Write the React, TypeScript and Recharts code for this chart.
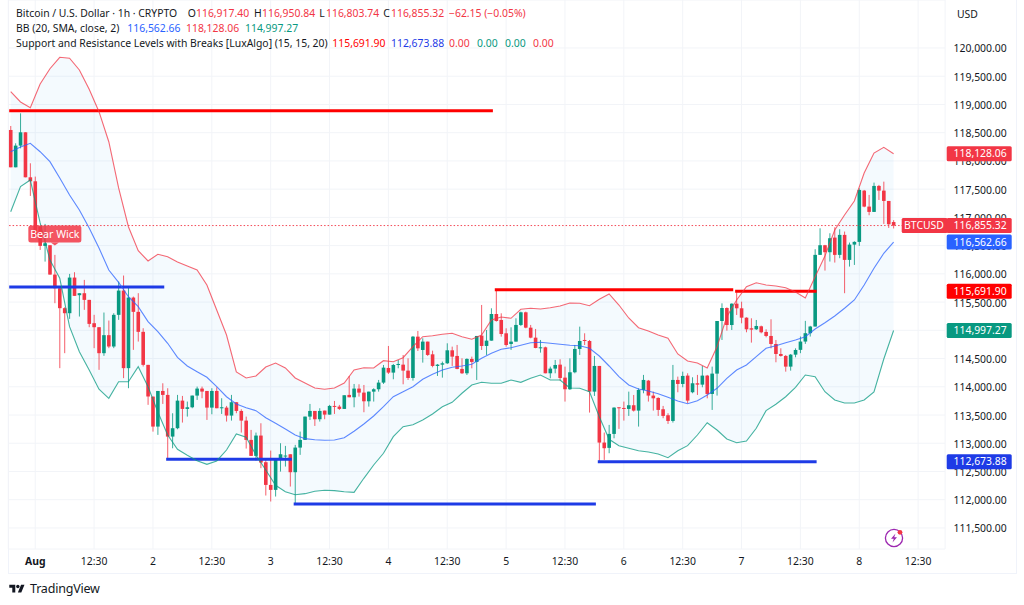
import React from "react";
import {
  ComposedChart, Bar, Line, Area, XAxis, YAxis, CartesianGrid, ReferenceLine, ReferenceDot,
} from "recharts";

const FONT = "'Noto Sans', sans-serif";
const RED = "#F23645";
const GREEN = "#089981";
const BLUE = "#2962FF";
const LEVEL_RED = "#FF0000";
const LEVEL_BLUE = "#1E3BE6";
const INK = "#131722";

// [open, high, low, close], one row per hourly candle
const ohlc: number[][] = [
  [118548,118619,117887,117887],[117887,118312,117887,118271],[118271,118843,118223,118507],[118507,118507,117710,117710],
  [117710,117958,117380,117639],[117639,117722,116660,116660],[116840,116840,116424,116495],[116495,116884,116217,116542],
  [116507,116507,115987,115987],[115987,116336,115480,115745],[115745,115775,114330,115392],[115392,115409,114595,115303],
  [115303,115999,115203,115934],[115934,116029,115610,115610],[115622,115657,115244,115657],[115657,115893,115362,115539],
  [115539,115539,115055,115114],[115126,115274,114684,115055],[115055,115055,114300,114595],[114595,115315,114548,114914],
  [114914,115173,114684,114713],[114713,115303,114684,115274],[115274,115863,115185,115704],[115704,115970,114153,114330],
  [114330,115775,113975,115580],[115580,115598,114654,115327],[115327,115657,114801,114973],[114973,115037,114359,114388],
  [114388,114388,113680,113828],[113826,113826,113206,113295],[113295,113926,113148,113926],[113926,114062,113696,113856],
  [113856,113974,112734,113118],[113118,113531,112911,113266],[113266,113856,113248,113755],[113755,113838,113366,113608],
  [113608,113738,113472,113637],[113637,113844,113620,113844],[113844,114003,113767,113968],[113968,114003,113797,113915],
  [113926,113926,113413,113631],[113631,113974,113513,113926],[113926,113991,113620,113620],[113625,113797,113519,113637],
  [113631,113661,113384,113490],[113490,113856,113401,113726],[113726,113726,113531,113572],[113572,113602,113189,113401],
  [113401,113472,112906,113059],[113059,113236,112776,112776],[112776,113189,112693,113136],[113136,113354,112558,112658],
  [112664,112705,112074,112262],[112262,112870,111968,112174],[112174,112717,112056,112717],[112717,113000,112498,112805],
  [112770,112953,112587,112782],[112805,112805,112233,112487],[112487,112971,111938,112923],[112923,113206,112794,113059],
  [113059,113472,113059,113472],[113472,113696,113413,113572],[113572,113572,113307,113425],[113425,113620,113384,113572],
  [113578,113578,113425,113507],[113507,113679,113507,113661],[113661,113749,113519,113649],[113649,113679,113590,113608],
  [113608,113850,113608,113850],[113856,114192,113814,113814],[113814,114050,113637,113968],[113968,114044,113826,113897],
  [113897,114032,113549,113743],[113743,113914,113649,113914],[113914,113974,113738,113956],[113956,114121,113914,114074],
  [114074,114386,114050,114339],[114333,114723,114227,114251],[114251,114404,114133,114386],[114386,114475,114327,114404],
  [114392,114563,114044,114286],[114286,114504,114121,114156],[114156,114900,114109,114888],[114888,114988,114634,114681],
  [114652,114859,114428,114800],[114800,114800,114546,114564],[114575,114640,114345,114369],[114369,114404,114192,114392],
  [114392,114446,114162,114416],[114416,114770,114404,114646],[114646,114711,114369,114534],[114546,114741,114310,114316],
  [114316,114504,114227,114239],[114239,114504,114209,114493],[114493,114534,114327,114440],[114440,114900,114121,114900],
  [114906,115449,114652,114723],[114723,115006,114564,114817],[114817,115390,114817,115289],[115289,115714,115154,115165],
  [115183,115301,114888,114935],[114947,115036,114711,114740],[114758,115053,114652,114800],[114800,115213,114800,115095],
  [115095,115331,115077,115319],[115319,115331,115036,115047],[115047,115095,114859,114870],[114870,115024,114682,114687],
  [114682,114829,114605,114699],[114699,114711,114239,114239],[114239,114357,114151,114322],[114322,114475,114239,114386],
  [114392,114487,114109,114156],[114162,114357,113738,113956],[113956,114504,113944,114257],[114257,114741,114239,114670],
  [114670,115065,114564,114811],[114829,114947,114740,114817],[114811,114829,113543,113914],[113914,114546,113838,114369],
  [114369,114369,112664,113012],[113012,113189,112705,112912],[112918,113325,112823,113165],[113165,113637,113088,113631],
  [113637,113637,113254,113620],[113625,113738,113401,113608],[113608,113914,113484,113673],[113673,113855,113561,113578],
  [113578,113974,113295,113944],[113944,114210,113885,114121],[114109,114121,113738,113844],[113844,113914,113578,113796],
  [113802,113814,113484,113590],[113602,113661,113443,113484],[113496,113531,113342,113395],[113395,114387,113366,114121],
  [114121,114180,113903,114050],[114050,114268,113991,114192],[114198,114239,113708,113755],[113903,114168,113885,114062],
  [114062,114210,113855,114038],[114038,114369,113991,114198],[114198,114210,113796,113873],[113873,114357,113590,114233],
  [114233,115165,113844,115165],[115165,115478,114829,115395],[115395,115407,114994,115094],[115094,115478,115006,115472],
  [115472,115673,115272,115390],[115390,115507,115124,115224],[115224,115230,114965,115018],[115036,115213,114782,115012],
  [115018,115183,115006,115077],[115071,115083,114947,114965],[114971,115018,114876,114900],[114900,115195,114681,114758],
  [114758,114829,114434,114581],[114581,114681,114534,114546],[114546,114563,114268,114357],[114357,114581,114286,114569],
  [114569,114681,114522,114652],[114654,114890,114595,114801],[114801,115167,114760,114949],[114949,115079,114890,115067],
  [115067,116436,115067,116336],[116336,116807,116336,116507],[116507,116513,116058,116383],[116383,116719,116218,116631],
  [116642,116825,116200,116336],[116336,116790,116277,116690],[116690,116749,115657,116247],[116247,116554,116129,116518],
  [116518,116577,116158,116566],[116566,117515,116495,117486],[117474,117486,117179,117191],[117191,117398,117038,117097],
  [117097,117616,117097,117557],[117557,117575,117309,117474],[117474,117633,116884,117291],[117291,117291,116813,116878],
  [116917.4,116950.84,116803.74,116855.32],
];

// Bollinger bands, read at every second candle
const BAND_STEP = 2;
const bbUpper = [
  119226,119044,118943,119362,119633,119835,119818,119610,119269,118872,118340,117521,116835,116410,116228,116346,116304,116210,
  116139,116068,115803,115360,114917,114262,114156,114191,114350,114421,114333,114156,114067,113979,113956,113979,114067,114297,
  114338,114333,114462,114444,114515,114710,114887,114905,114930,114947,114887,114841,114917,115183,115236,115213,115372,115390,
  115378,115401,115431,115484,115479,115436,115549,115643,115448,115218,115046,114988,114917,114859,114581,114457,114421,114333,
  114710,115241,115537,115773,115843,115803,115785,115755,115679,115572,115950,116316,116777,117042,117290,117786,118140,118241,118128.06,
];
const bbBasis = [
  118163,118247,118312,118163,117986,117698,117397,117131,116812,116458,116068,115850,115595,115418,115153,114976,114770,114522,
  114368,114267,114168,114001,113824,113695,113630,113577,113453,113353,113252,113146,113081,113063,113052,113058,113098,113212,
  113341,113483,113647,113824,113913,114001,114133,114221,114297,114345,114368,114398,114505,114593,114664,114692,114735,114781,
  114788,114770,114752,114735,114728,114682,114545,114368,114179,114032,113961,113925,113878,113814,113748,113700,113754,113855,
  113973,114150,114297,114386,114533,114682,114728,114781,114829,114887,115023,115135,115254,115390,115537,115803,116098,116364,116562.66,
];
const bbLower = [
  117101,117544,117662,116901,116245,115921,115064,114621,114297,113956,113796,114090,114090,114356,114001,113553,113146,112893,
  112787,112691,112627,112686,112880,113164,113105,112792,112526,112255,112142,112089,112107,112149,112167,112160,112142,112131,
  112379,112615,112822,113116,113293,113329,113412,113518,113647,113725,113885,114032,114079,114062,114062,114120,114079,114150,
  114209,114120,114120,113979,113973,113913,113470,113070,112957,112911,112868,112845,112810,112744,112868,112957,113146,113364,
  113235,113075,113010,113040,113265,113577,113690,113824,113991,114209,114179,113913,113766,113713,113713,113766,113908,114492,114997.27,
];

// support / resistance segments: first candle, last candle, price
const levels: { from: number; to: number; value: number; color: string }[] = [
  { from: 0, to: 98, value: 118890, color: LEVEL_RED },
  { from: 99, to: 147, value: 115720, color: LEVEL_RED },
  { from: 148, to: 164, value: 115691.9, color: LEVEL_RED },
  { from: 0, to: 31, value: 115769, color: LEVEL_BLUE },
  { from: 32, to: 57, value: 112716, color: LEVEL_BLUE },
  { from: 58, to: 119, value: 111924, color: LEVEL_BLUE },
  { from: 120, to: 164, value: 112673.88, color: LEVEL_BLUE },
];

const priceTicks = [111500,112000,112500,113000,113500,114000,114500,115000,115500,116000,116500,117000,117500,118000,118500,119000,119500,120000];
const timeTickIndex = [5,17,29,41,53,65,77,89,101,113,125,137,149,161,173,185];
const timeTickLabels = ["Aug","12:30","2","12:30","3","12:30","4","12:30","5","12:30","6","12:30","7","12:30","8","12:30"];

const priceTags: { value: number; text: string; color: string }[] = [
  { value: 118128.06, text: "118,128.06", color: RED },
  { value: 116855.32, text: "116,855.32", color: RED },
  { value: 116562.66, text: "116,562.66", color: BLUE },
  { value: 115691.9, text: "115,691.90", color: LEVEL_RED },
  { value: 114997.27, text: "114,997.27", color: GREEN },
  { value: 112673.88, text: "112,673.88", color: LEVEL_BLUE },
];
const LAST_PRICE = 116855.32;
const ROWS = 191;

const rows = Array.from({ length: ROWS }, (_, i) => {
  const row: any = { idx: i };
  const c = ohlc[i];
  if (c) {
    row.open = c[0]; row.high = c[1]; row.low = c[2]; row.close = c[3];
    row.range = [c[2], c[3] > c[1] ? c[3] : c[1]];
  }
  if (i % BAND_STEP === 0 && bbUpper[i / BAND_STEP] !== undefined) {
    const k = i / BAND_STEP;
    row.upper = bbUpper[k]; row.basis = bbBasis[k]; row.lower = bbLower[k];
    row.band = [bbLower[k], bbUpper[k]];
  }
  levels.forEach((l, n) => {
    if (i >= l.from && i <= l.to) row["level" + n] = l.value;
  });
  return row;
});

const Candle = (props: any) => {
  const { x, y, width, height, payload } = props;
  if (!payload || payload.open === undefined || !height) return null;
  const { open, high, low, close } = payload;
  const k = Math.abs(height) / Math.max(high - low, 1);
  const top = Math.min(y, y + height);
  const cx = x + width / 2;
  const yOf = (v: number) => top + (high - v) * k;
  const up = close >= open;
  const color = up ? GREEN : RED;
  const bodyTop = yOf(Math.max(open, close));
  const bodyH = Math.max(Math.abs(yOf(open) - yOf(close)), 1);
  return (
    <g>
      <line x1={cx} x2={cx} y1={top} y2={top + Math.abs(height)} stroke={color} strokeWidth={1} strokeOpacity={0.8} />
      <rect x={cx - 1.8} y={bodyTop} width={3.6} height={bodyH} fill={color} />
    </g>
  );
};

const PriceTick = (props: any) => {
  const { y, payload } = props;
  return (
    <text x={1006.7} y={y} dy={4.5} textAnchor="end" fontFamily={FONT} fontSize={10.4} fill={INK}>
      {Number(payload.value).toLocaleString("en-US", { minimumFractionDigits: 2 })}
    </text>
  );
};

const TimeTick = (props: any) => {
  const { x, y, payload } = props;
  const label = timeTickLabels[timeTickIndex.indexOf(payload.value)];
  return (
    <text x={x} y={y} dy={8} textAnchor="middle" fontFamily={FONT} fontSize={10.4} fontWeight={label === "Aug" ? 700 : 400} fill={INK}>
      {label}
    </text>
  );
};

const tagShape = (text: string, color: string) => (props: any) => {
  const { cy } = props;
  return (
    <g>
      <rect x={946.7} y={cy - 7.5} width={65} height={15} rx={1.5} fill={color} />
      <text x={1006.7} y={cy} dy={3.8} textAnchor="end" fontFamily={FONT} fontSize={10.4} fill="#fff">{text}</text>
    </g>
  );
};

const SymbolTag = (props: any) => {
  const { cy } = props;
  return (
    <g>
      <rect x={901.7} y={cy - 7.5} width={46} height={15} rx={1.5} fill={RED} />
      <text x={924} y={cy} dy={3.8} textAnchor="middle" fontFamily={FONT} fontSize={10.4} fill="#fff">BTCUSD</text>
    </g>
  );
};

const BearWick = (props: any) => {
  const { cx, cy } = props;
  return (
    <g>
      <path d={`M${cx - 4} ${cy - 3}L${cx} ${cy}L${cx + 4} ${cy - 3}Z`} fill={RED} fillOpacity={0.85} />
      <rect x={cx - 26.5} y={cy - 20} width={53} height={17} rx={2.5} fill={RED} fillOpacity={0.85} />
      <text x={cx} y={cy - 11.5} dy={3.8} textAnchor="middle" fontFamily={FONT} fontSize={10.6} fill="#fff">Bear Wick</text>
    </g>
  );
};

const legendSpans: { x: number; y: number; text: string; color: string }[] = [
  { x: 16, y: 6, text: "Bitcoin / U.S. Dollar · 1h · CRYPTO", color: INK },
  { x: 187.7, y: 6, text: "O", color: INK },
  { x: 196, y: 6, text: "116,917.40", color: RED },
  { x: 254, y: 6, text: "H", color: INK },
  { x: 262, y: 6, text: "116,950.84", color: RED },
  { x: 319.3, y: 6, text: "L", color: INK },
  { x: 326, y: 6, text: "116,803.74", color: RED },
  { x: 383.3, y: 6, text: "C", color: INK },
  { x: 391, y: 6, text: "116,855.32", color: RED },
  { x: 449, y: 6, text: "−62.15 (−0.05%)", color: RED },
  { x: 16, y: 21, text: "BB (20, SMA, close, 2)", color: INK },
  { x: 127.3, y: 21, text: "116,562.66", color: BLUE },
  { x: 186, y: 21, text: "118,128.06", color: RED },
  { x: 245, y: 21, text: "114,997.27", color: GREEN },
  { x: 16, y: 36, text: "Support and Resistance Levels with Breaks [LuxAlgo] (15, 15, 20)", color: INK },
  { x: 332.3, y: 36, text: "115,691.90", color: LEVEL_RED },
  { x: 391, y: 36, text: "112,673.88", color: LEVEL_BLUE },
  { x: 449, y: 36, text: "0.00", color: RED },
  { x: 477, y: 36, text: "0.00", color: GREEN },
  { x: 505, y: 36, text: "0.00", color: GREEN },
  { x: 533, y: 36, text: "0.00", color: RED },
];

const ON_TOP: any = { zIndex: 3000 };

export default function App() {
  return (
    <div style={{ position: "absolute", left: 0, top: 0, width: 1024, height: 605, background: "#fff", overflow: "hidden" }}>
      <div style={{ position: "absolute", left: 8, top: -2, width: 1007, height: 575, borderLeft: "1px solid #f0f3fa", borderRight: "1px solid #f0f3fa", borderBottom: "1px solid #f0f3fa" }} />
      <div style={{ position: "absolute", left: 0, top: 0 }}>
        <ComposedChart width={1024} height={573} data={rows} barCategoryGap={0} margin={{ top: 0, right: 0, bottom: 0, left: 8.25 }}>
          <CartesianGrid stroke="#f2f4f8" strokeWidth={1} />
          <XAxis dataKey="idx" type="category" ticks={timeTickIndex} interval={0} height={24} tick={<TimeTick />} tickLine={false} axisLine={false} />
          <YAxis orientation="right" width={78.9} domain={[111127, 120850]} allowDataOverflow ticks={priceTicks} interval={0} tick={<PriceTick />} tickLine={false} axisLine={false} />
          <Area dataKey="band" connectNulls stroke="none" fill="#2196F3" fillOpacity={0.05} isAnimationActive={false} dot={false} activeDot={false} />
          <ReferenceLine y={LAST_PRICE} stroke={RED} strokeWidth={1} strokeOpacity={0.9} strokeDasharray="1.5 2" />
          {levels.map((l, n) => (
            <Line key={n} dataKey={"level" + n} stroke={l.color} strokeWidth={3} strokeLinecap="square" dot={false} activeDot={false} isAnimationActive={false} />
          ))}
          <Bar dataKey="range" shape={<Candle />} isAnimationActive={false} />
          <Line dataKey="upper" connectNulls stroke={RED} strokeOpacity={0.75} strokeWidth={1.1} dot={false} activeDot={false} isAnimationActive={false} />
          <Line dataKey="basis" connectNulls stroke={BLUE} strokeOpacity={0.75} strokeWidth={1.1} dot={false} activeDot={false} isAnimationActive={false} />
          <Line dataKey="lower" connectNulls stroke={GREEN} strokeOpacity={0.75} strokeWidth={1.1} dot={false} activeDot={false} isAnimationActive={false} />
          <ReferenceDot x={9} y={116500} shape={<BearWick />} ifOverflow="visible" {...ON_TOP} />
          <ReferenceDot x={190} y={LAST_PRICE} shape={<SymbolTag />} ifOverflow="visible" {...ON_TOP} />
          {priceTags.map((t) => (
            <ReferenceDot key={t.text} x={190} y={t.value} shape={tagShape(t.text, t.color)} ifOverflow="visible" {...ON_TOP} />
          ))}
        </ComposedChart>
      </div>
      {legendSpans.map((s, i) => (
        <div key={i} style={{ position: "absolute", left: s.x, top: s.y, font: `10.4px/14px ${FONT}`, color: s.color, whiteSpace: "nowrap" }}>{s.text}</div>
      ))}
      <div style={{ position: "absolute", left: 957, top: 7, font: `10.4px/14px ${FONT}`, color: INK }}>USD</div>
      <svg style={{ position: "absolute", left: 893.7 - 11, top: 537.7 - 11 }} width={22} height={22} viewBox="0 0 22 22">
        <circle cx={11} cy={11} r={8.6} fill="#fff" stroke="#9C27B0" strokeWidth={1.3} />
        <path d="M12.5 6.5L8 11.8h2.8L9.5 15.5L14 10.2h-2.8z" fill="#9C27B0" />
        <circle cx={17} cy={5.3} r={2.4} fill={RED} />
      </svg>
      <svg style={{ position: "absolute", left: 9, top: 583 }} width={16} height={12} viewBox="0 0 36 28">
        <path d="M14 22H7V11H0V4h14v18zM28 22h-8l7.5-18h8L28 22z" fill={INK} />
        <circle cx={20} cy={8} r={4} fill={INK} />
      </svg>
      <div style={{ position: "absolute", left: 30, top: 581, font: `12.5px/16px ${FONT}`, color: INK, letterSpacing: -0.2 }}>TradingView</div>
    </div>
  );
}
